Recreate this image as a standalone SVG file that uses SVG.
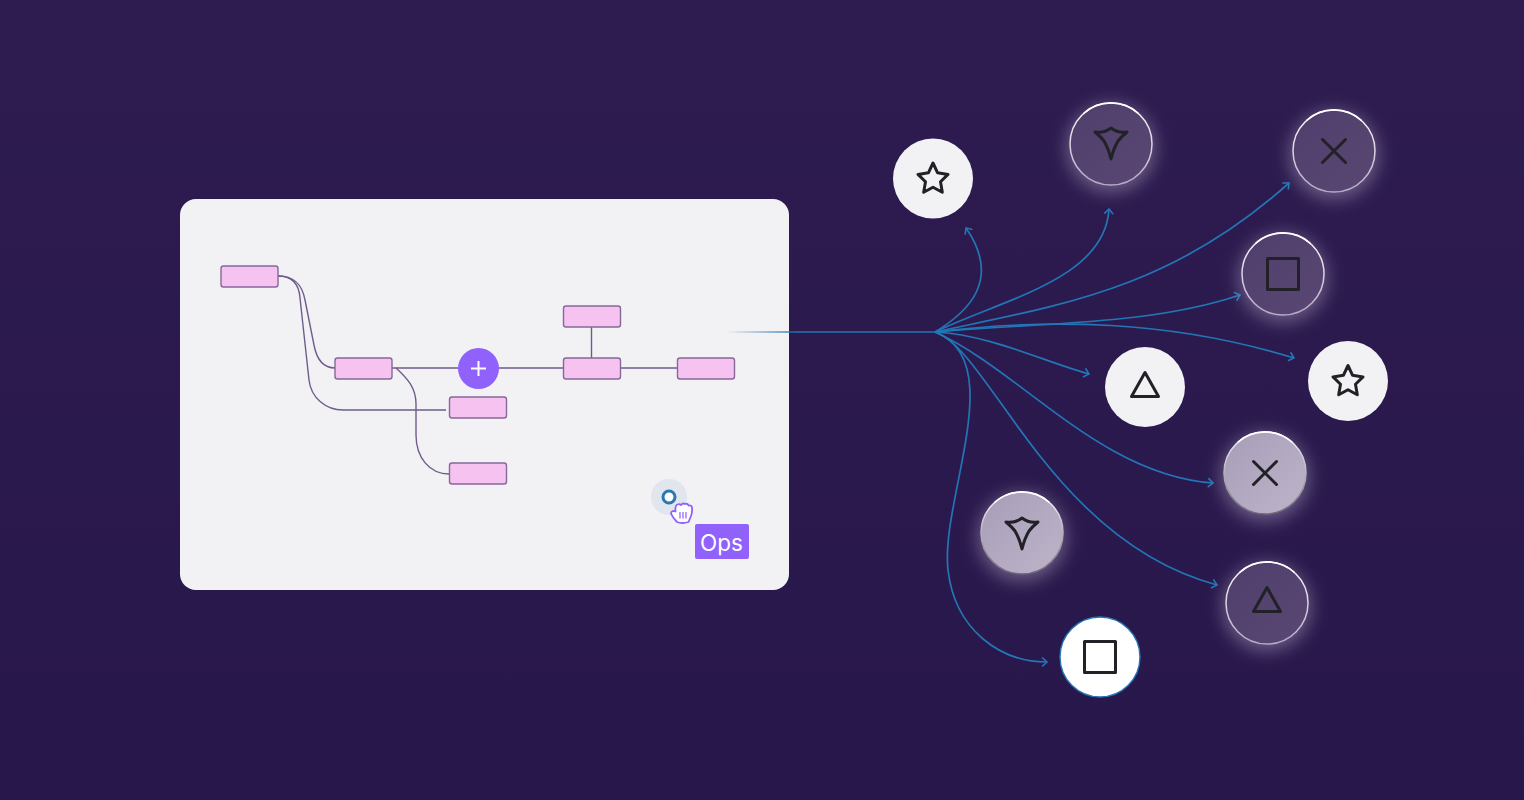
<svg xmlns="http://www.w3.org/2000/svg" width="1524" height="800" viewBox="0 0 1524 800">
<style>
.n{fill:#f6c2f0;stroke:#86689a;stroke-width:1.4}
.c{fill:none;stroke:#6f5c8c;stroke-width:1.4}
.b{fill:none;stroke:#2375b6;stroke-width:1.7;marker-end:url(#a)}
.i{fill:none;stroke:#222127;stroke-width:3;stroke-linejoin:round;stroke-linecap:round}
.w{fill:#f2f2f5}
.g1{fill:url(#dark);stroke:url(#rim);stroke-width:1.5}
.g2{fill:url(#light);stroke:url(#rim2);stroke-width:1.5}
.glow{fill:#c9bedb;opacity:.42;filter:url(#blur)}
.hl{fill:none;stroke:#fff;stroke-width:1.6;stroke-linecap:round}
</style>
<defs>
<linearGradient id="bg" x1="0" y1="0" x2="0" y2="1"><stop offset="0" stop-color="#2e1c50"/><stop offset="1" stop-color="#28174a"/></linearGradient>
<linearGradient id="rim" x1="0" y1="0" x2="0" y2="1"><stop offset="0" stop-color="#fff"/><stop offset="1" stop-color="#b5a9c6"/></linearGradient>
<linearGradient id="rim2" x1="0" y1="0" x2="0" y2="1"><stop offset="0" stop-color="#fff"/><stop offset="1" stop-color="#6e6577"/></linearGradient>
<linearGradient id="light" x1="0" y1="0" x2="1" y2="1"><stop offset="0" stop-color="#a89db8"/><stop offset="1" stop-color="#bdb4c9"/></linearGradient>
<linearGradient id="dark" x1="0" y1="0" x2="1" y2="1"><stop offset="0" stop-color="#4f3e6c"/><stop offset="1" stop-color="#5a4773"/></linearGradient>
<linearGradient id="fade" gradientUnits="userSpaceOnUse" x1="725" y1="0" x2="800" y2="0"><stop offset="0" stop-color="#2375b6" stop-opacity="0"/><stop offset="1" stop-color="#2375b6"/></linearGradient>
<filter id="blur" x="-50%" y="-50%" width="200%" height="200%"><feGaussianBlur stdDeviation="9"/></filter>
<marker id="a" viewBox="0 0 10 10" refX="8.500" refY="5" markerWidth="10" markerHeight="10" markerUnits="userSpaceOnUse" orient="auto"><path d="M3.500 0.500L8.500 5L3.500 9.500" fill="none" stroke="#2375b6" stroke-width="1.600"/></marker>
<path id="star" d="M0-15L4.600-5.200L15-3.600L7.500 3.800L9.300 14.200L0 9.200L-9.300 14.200L-7.500 3.800L-15-3.600L-4.600-5.200Z"/>
<path id="kite" d="M0 15C-2 7-4 2-7-3Q-10-7-16-12Q-7-10.500 0-16Q7-10.500 16-12Q10-7 7-3C4 2 2 7 0 15Z"/>
<path id="x" d="M-11.500-11.500L11.500 11.500M11.500-11.500L-11.500 11.500"/>
<rect id="sq" x="-15.500" y="-15.500" width="31" height="31"/>
<path id="tri" d="M0-13.500L13.500 10.500H-13.500Z"/>
<path id="arc" d="M-27-31A41 41 0 0 1 27-31"/>
</defs>
<rect width="1524" height="800" fill="url(#bg)"/>
<rect id="panel" x="180" y="199" width="609" height="391" rx="16" fill="#f2f2f5"/>
<g id="connectors">
<path class="c" d="M278 276C294 276 302 284 305 300L314 345C317 361 325 368 335 368"/>
<path class="c" d="M278 276C292 276 299 284 300 298L309 380C311 398 326 410 343 410H446"/>
<path class="c" d="M392 368H458M498 368H563M620 368H677"/>
<path class="c" d="M591.500 327V358"/>
<path class="c" d="M396 368C408 379 416 388 416 404V435C416 458 430 474 449 474"/>
<path d="M725 332H935" fill="none" stroke="url(#fade)" stroke-width="1.700"/>
<path class="b" d="M935 332C968 312 1002 280 966 228"/>
<path class="b" d="M935 332C1000 300 1105 280 1109 209"/>
<path class="b" d="M935 332C1060 305 1170 290 1289 183"/>
<path class="b" d="M935 332C1050 322 1150 325 1240 295"/>
<path class="b" d="M935 332C1050 318 1170 320 1294 358"/>
<path class="b" d="M935 332C990 335 1040 360 1089 374"/>
<path class="b" d="M935 332C1020 370 1100 475 1213 483"/>
<path class="b" d="M935 332C990 350 1050 540 1217 585"/>
<path class="b" d="M935 332C1010 360 940 500 948 570C955 630 1000 662 1047 662"/>
</g>
<g id="n1"><rect class="n" x="221" y="266" width="57" height="21" rx="2.500"/></g>
<g id="n2"><rect class="n" x="335" y="358" width="57" height="21" rx="2.500"/></g>
<g id="n3"><rect class="n" x="449.500" y="397" width="57" height="21" rx="2.500"/></g>
<g id="n4"><rect class="n" x="449.500" y="463" width="57" height="21" rx="2.500"/></g>
<g id="n5"><rect class="n" x="563.500" y="306" width="57" height="21" rx="2.500"/></g>
<g id="n6"><rect class="n" x="563.500" y="358" width="57" height="21" rx="2.500"/></g>
<g id="n7"><rect class="n" x="677.500" y="358" width="57" height="21" rx="2.500"/></g>
<g id="plus"><circle cx="478.500" cy="368.500" r="20.500" fill="#9061fb"/><path d="M478.500 361V376M471 368.500H486" stroke="#fff" stroke-width="2" fill="none"/></g>
<g id="pointer">
<circle cx="669" cy="497" r="18" fill="#e0e5ee"/>
<circle cx="669" cy="497" r="6" fill="#fff" stroke="#2b78ae" stroke-width="3"/>
<path d="M677 522C675 520 672 516 671 513.500C671 511 674 510.500 675.500 511.500Q675 505.500 677.500 504.500Q679.500 503.500 681 505Q683 502.500 685 504Q687.500 503 688.500 505.500Q691.500 505 692 507.500Q692.500 512 691 516L688.500 522Q682 524 677 522Z" fill="#fff" stroke="#9061fb" stroke-width="1.800" stroke-linejoin="round"/>
<path d="M680 512V518.500M683 512V518.500M686 512V518.500" stroke="#9061fb" stroke-width="1.200"/>
</g>
<g id="ops"><rect x="695" y="524" width="54" height="35" rx="2" fill="#9061fb"/><text x="721.500" y="551" text-anchor="middle" font-family="Inter, 'Noto Sans', sans-serif" font-size="22.500" fill="#fff">Ops</text></g>
<g id="c1"><circle class="w" cx="933" cy="178.500" r="40"/><use href="#star" class="i" transform="translate(933 178)"/></g>
<g id="c2"><circle class="glow" cx="1111" cy="148" r="44"/><circle class="g1" cx="1111" cy="144" r="41"/><use href="#arc" class="hl" transform="translate(1111 144)"/><use href="#kite" class="i" transform="translate(1111 144)"/></g>
<g id="c3"><circle class="glow" cx="1334" cy="155" r="44"/><circle class="g1" cx="1334" cy="151" r="41"/><use href="#arc" class="hl" transform="translate(1334 151)"/><use href="#x" class="i" transform="translate(1334 151)"/></g>
<g id="c4"><circle class="glow" cx="1283" cy="278" r="44"/><circle class="g1" cx="1283" cy="274" r="41"/><use href="#arc" class="hl" transform="translate(1283 274)"/><use href="#sq" class="i" transform="translate(1283 274)"/></g>
<g id="c5"><circle class="w" cx="1145" cy="387" r="40"/><use href="#tri" class="i" transform="translate(1145 386)"/></g>
<g id="c6"><circle class="w" cx="1348" cy="381" r="40"/><use href="#star" class="i" transform="translate(1348 380.500)"/></g>
<g id="c7"><circle class="glow" cx="1265" cy="477" r="44"/><circle class="g2" cx="1265" cy="473" r="41"/><use href="#arc" class="hl" transform="translate(1265 473)"/><use href="#x" class="i" transform="translate(1265 473)"/></g>
<g id="c8"><circle class="glow" cx="1022" cy="537" r="44"/><circle class="g2" cx="1022" cy="533" r="41"/><use href="#arc" class="hl" transform="translate(1022 533)"/><use href="#kite" class="i" transform="translate(1022 534)"/></g>
<g id="c9"><circle class="glow" cx="1267" cy="607" r="44"/><circle class="g1" cx="1267" cy="603" r="41"/><use href="#arc" class="hl" transform="translate(1267 603)"/><use href="#tri" class="i" transform="translate(1267 601)"/></g>
<g id="c10"><circle cx="1100" cy="657" r="40" fill="#fff" stroke="#2375b6" stroke-width="1.400"/><use href="#sq" class="i" transform="translate(1100 657)"/></g>
</svg>
